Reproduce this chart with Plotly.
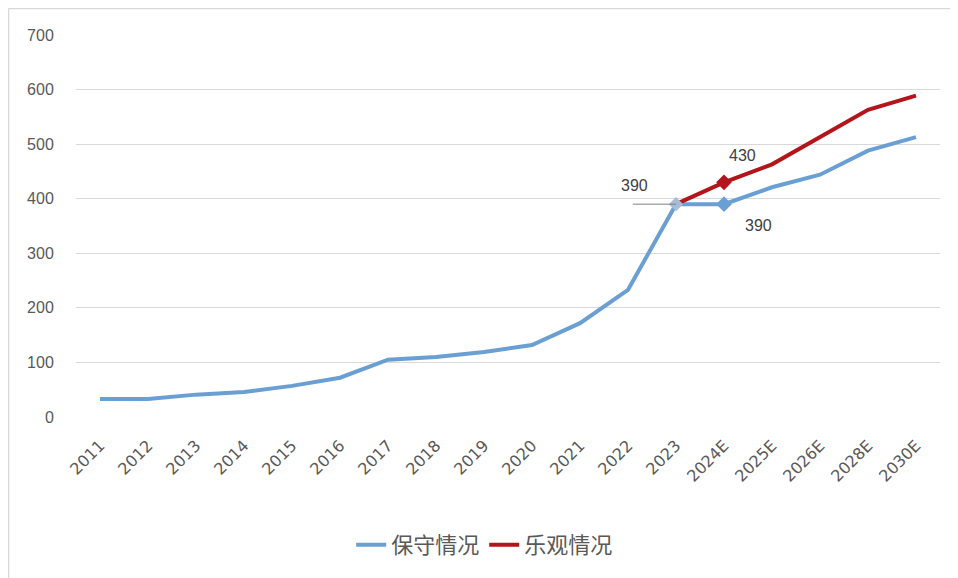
import plotly.graph_objects as go

categories = ["2011", "2012", "2013", "2014", "2015", "2016", "2017", "2018", "2019",
              "2020", "2021", "2022", "2023", "2024E", "2025E", "2026E", "2028E", "2030E"]
conservative = [33, 33, 41, 46, 57, 72, 105, 110, 119, 132, 172, 233, 390, 390, 421, 444, 488, 513]
opt_categories = ["2023", "2024E", "2025E", "2026E", "2028E", "2030E"]
optimistic = [390, 430, 463, 512, 563, 589]
y_ticks = [0, 100, 200, 300, 400, 500, 600, 700]

blue = "#6a9fd4"
red = "#b3151b"
font_family = "Liberation Sans, Noto Sans CJK SC, sans-serif"

W, H = 950, 570
ML, MR, MT, MB = 68, 18, 27, 161
pw, ph = W - ML - MR, H - MT - MB

fig = go.Figure()
fig.add_trace(go.Scatter(x=categories, y=conservative, mode="lines", name="保守情况",
                         line=dict(color=blue, width=4)))
fig.add_trace(go.Scatter(x=opt_categories, y=optimistic, mode="lines", name="乐观情况",
                         line=dict(color=red, width=4)))
# markers
fig.add_trace(go.Scatter(x=[categories[12]], y=[conservative[12]], mode="markers", showlegend=False,
                         marker=dict(symbol="diamond", size=11, color="#a9bcd6")))
fig.add_trace(go.Scatter(x=[categories[13]], y=[conservative[13]], mode="markers", showlegend=False,
                         marker=dict(symbol="diamond", size=12, color=blue)))
fig.add_trace(go.Scatter(x=[opt_categories[1]], y=[optimistic[1]], mode="markers", showlegend=False,
                         marker=dict(symbol="diamond", size=12, color=red)))

i23 = categories.index("2023")
i24 = categories.index("2024E")

# leader line for 2023 label
fig.add_shape(type="line", xref="x", yref="y", x0=i23 - 0.9, x1=i23, y0=conservative[i23], y1=conservative[i23],
              line=dict(color="#808080", width=1))

lab_font = dict(family=font_family, size=16, color="#404040")
fig.add_annotation(x=i23, y=conservative[i23], text=str(conservative[i23]), showarrow=False,
                   xshift=-42, yshift=19, font=lab_font)
fig.add_annotation(x=i24, y=optimistic[1], text=str(optimistic[1]), showarrow=False,
                   xshift=18, yshift=27, font=lab_font)
fig.add_annotation(x=i24, y=conservative[i24], text=str(conservative[i24]), showarrow=False,
                   xshift=34, yshift=-21, font=lab_font)

# outer border (top and left edges)
x_left = (-ML + 0.5) / pw
y_top = 1 + (MT - 0.5) / ph
fig.add_shape(type="line", xref="paper", yref="paper", x0=x_left, x1=1 + MR / pw, y0=y_top, y1=y_top,
              line=dict(color="#d9d9d9", width=1.5))
fig.add_shape(type="line", xref="paper", yref="paper", x0=x_left, x1=x_left, y0=y_top, y1=-MB / ph,
              line=dict(color="#d9d9d9", width=1.5))

fig.update_layout(
    width=W, height=H,
    margin=dict(l=ML, r=MR, t=MT, b=MB),
    paper_bgcolor="white", plot_bgcolor="white",
    font=dict(family=font_family, color="#595959"),
    legend=dict(orientation="h", x=0.473, xanchor="center", y=-128 / ph, yanchor="middle",
                font=dict(family="Noto Sans CJK SC", size=22, color="#595959"),
                traceorder="normal"),
    xaxis=dict(type="category", categoryorder="array", categoryarray=categories,
               range=[-0.5, len(categories) - 0.5], tickangle=-45,
               tickfont=dict(family="DejaVu Sans", size=16, color="#595959"), showgrid=False,
               ticks="outside", ticklen=12, tickcolor="white",
               showline=False, zeroline=False),
    yaxis=dict(range=[0, 700], tickvals=y_ticks, showgrid=True, gridcolor="#d9d9d9",
               gridwidth=1, zeroline=False, tickfont=dict(size=16, color="#595959"),
               ticks="outside", ticklen=18, tickcolor="white", showline=False),
)

fig.write_html("out.html")
